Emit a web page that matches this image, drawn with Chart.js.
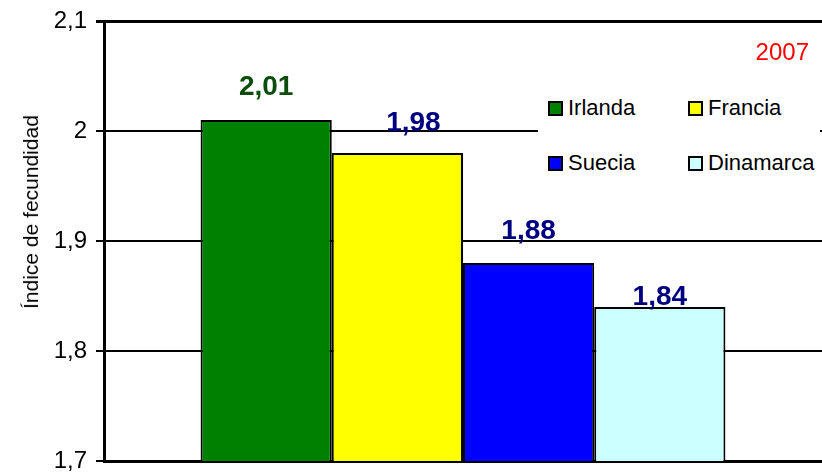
<!DOCTYPE html>
<html>
<head>
<meta charset="utf-8">
<script src="https://cdn.jsdelivr.net/npm/chart.js@4"></script>
<style>
  body { margin: 0; background: #fff; }
  #wrap { position: relative; width: 822px; height: 472px; font-family: Arial, "Liberation Sans", sans-serif; }
  #ytitle { position: absolute; left: 31px; top: 212px; transform: translate(-50%, -50%) rotate(-90deg); font-size: 21px; line-height: 24px; white-space: nowrap; color: #000; }
  #year { position: absolute; right: 13px; top: 38px; font-size: 24px; color: #ff0000; }
  #legendBg { position: absolute; left: 538px; top: 92px; width: 282px; height: 86px; background: #fff; }
  .item { position: absolute; font-size: 22px; line-height: 24px; color: #000; white-space: nowrap; }
  .box { position: absolute; width: 11px; height: 11px; border: 2px solid #000; }
</style>
</head>
<body>
<div id="wrap">
  <canvas id="chart" width="822" height="472"></canvas>
  <div id="ytitle">Índice de fecundidad</div>
  <div id="year">2007</div>
  <div id="legendBg"></div>
</div>
<script>
// datos 2007
const countries = ['Irlanda', 'Francia', 'Suecia', 'Dinamarca'];
const values = [2.01, 1.98, 1.88, 1.84];
const barColors = ['#008000', '#ffff00', '#0000ff', '#ccffff'];
const labelColors = ['#0b4d0b', '#000080', '#000080', '#000080'];
const yTicks = [1.7, 1.8, 1.9, 2.0, 2.1];
const yTickLabels = ['1,7', '1,8', '1,9', '2', '2,1'];

// label nudges (same as the original, not all sit the same height)
const labelLift = [33, 30, 32, 10];
const labelShift = [0, 16, 0, 0];

const barLabels = {
    id: 'barLabels',
    afterDatasetsDraw(chart) {
        const ctx = chart.ctx;
        ctx.save();
        ctx.font = 'bold 28px Arial, "Liberation Sans", sans-serif';
        ctx.textAlign = 'center';
        ctx.textBaseline = 'middle';
        chart.data.datasets.forEach((ds, i) => {
            const bar = chart.getDatasetMeta(i).data[0];
            ctx.fillStyle = labelColors[i];
            ctx.fillText(String(ds.data[0]).replace('.', ','), bar.x + labelShift[i], bar.y - labelLift[i]);
        });
        ctx.restore();
    }
};

const ctx = document.getElementById('chart').getContext('2d');
new Chart(ctx, {
    type: 'bar',
    data: {
        labels: [''],
        datasets: countries.map((c, i) => ({
            label: c,
            data: [values[i]],
            backgroundColor: barColors[i],
            borderColor: '#000',
            borderWidth: 2,
            borderSkipped: 'bottom',
            barPercentage: 1,
            categoryPercentage: 0.731
        }))
    },
    options: {
        responsive: false,
        animation: false,
        layout: { padding: { top: 21, right: 0, bottom: 11, left: 0 } },
        plugins: { legend: { display: false }, tooltip: { enabled: false } },
        scales: {
            x: {
                grid: { display: false },
                ticks: { display: false },
                afterFit: (scale) => { scale.height = 0; scale.paddingLeft = 0; scale.paddingRight = 0; },
                border: { display: true, color: '#000', width: 3 }
            },
            y: {
                min: 1.7,
                max: 2.1,
                afterBuildTicks: (scale) => { scale.ticks = yTicks.map(v => ({ value: v })); },
                afterFit: (scale) => {
                    scale.width = 104;
                    scale.paddingTop = 0;
                    scale.paddingBottom = 0;
                },
                ticks: {
                    color: '#000',
                    padding: 9,
                    font: { family: 'Arial, "Liberation Sans", sans-serif', size: 24 },
                    callback: (v, idx) => yTickLabels[idx]
                },
                grid: {
                    color: '#000',
                    lineWidth: (c) => c.index === yTicks.length - 1 ? 3 : 2,
                    tickLength: 8
                },
                border: { display: true, color: '#000', width: 3 }
            }
        }
    },
    plugins: [barLabels]
});

// leyenda 2 x 2 dentro del área (centro de cada fila: 108 y 163)
const wrap = document.getElementById('wrap');
const legendX = [548, 688, 548, 688];
const legendY = [108, 108, 163, 163];
countries.forEach((c, i) => {
    const box = document.createElement('div');
    box.className = 'box';
    box.style.left = legendX[i] + 'px';
    box.style.top = (legendY[i] - 7) + 'px';
    box.style.background = barColors[i];
    wrap.appendChild(box);
    const t = document.createElement('div');
    t.className = 'item';
    t.style.left = (legendX[i] + 20) + 'px';
    t.style.top = (legendY[i] - 12) + 'px';
    t.textContent = c;
    wrap.appendChild(t);
});
</script>
</body>
</html>
